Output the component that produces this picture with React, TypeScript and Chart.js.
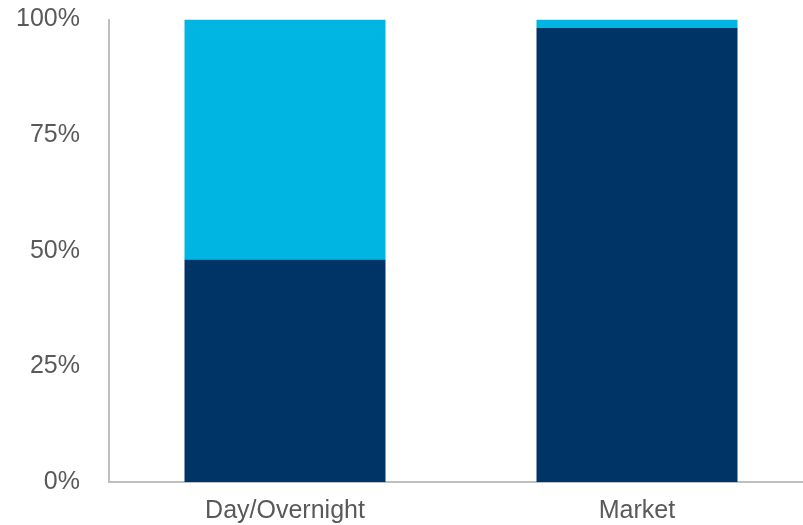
import React, { useEffect, useRef } from "react";
import { Chart, registerables } from "chart.js";

Chart.register(...registerables);

const categories = ["Day/Overnight", "Market"];
const darkSeries = [48.1, 98.2];
const lightSeries = [51.9, 1.8];
const yTicks = [0, 25, 50, 75, 100];

const NAVY = "#003366";
const LIGHT = "#00B5E2";
const AXIS = "#BFBFBF";
const TEXT = "#595959";
const FONT = "'Liberation Sans', Arial, sans-serif";

export default function App() {
  const ref = useRef<HTMLCanvasElement | null>(null);

  useEffect(() => {
    if (!ref.current) return;
    const chart = new Chart(ref.current, {
      type: "bar",
      data: {
        labels: categories,
        datasets: [
          {
            label: "Dark",
            data: darkSeries,
            backgroundColor: NAVY,
            borderWidth: 0,
            categoryPercentage: 1,
            barPercentage: 0.571,
          },
          {
            label: "Light",
            data: lightSeries,
            backgroundColor: LIGHT,
            borderWidth: 0,
            categoryPercentage: 1,
            barPercentage: 0.571,
          },
        ],
      },
      options: {
        animation: false,
        responsive: false,
        maintainAspectRatio: false,
        layout: { padding: { top: 19.5, left: 0, right: 0, bottom: 0 } },
        plugins: { legend: { display: false }, tooltip: { enabled: false } },
        scales: {
          x: {
            stacked: true,
            afterFit: (scale: any) => {
              scale.height = 43;
              scale.paddingLeft = 0;
              scale.paddingRight = 0;
            },
            border: { display: true, color: AXIS, width: 2 },
            grid: { display: false, drawTicks: false },
            ticks: {
              color: TEXT,
              padding: 14,
              font: { family: FONT, size: 25 },
            },
          },
          y: {
            stacked: true,
            min: 0,
            max: 100,
            afterBuildTicks: (scale: any) => {
              scale.ticks = yTicks.map((v) => ({ value: v }));
            },
            afterFit: (scale: any) => {
              scale.width = 109;
              scale.paddingTop = 0;
              scale.paddingBottom = 0;
            },
            border: { display: true, color: AXIS, width: 2 },
            grid: { display: false, drawTicks: false },
            ticks: {
              color: TEXT,
              padding: 29,
              font: { family: FONT, size: 25 },
              callback: (v: any) => `${v}%`,
            },
          },
        },
      },
    });
    return () => chart.destroy();
  }, []);

  return (
    <div
      style={{
        position: "absolute",
        left: 0,
        top: 0,
        width: 803,
        height: 525,
        overflow: "hidden",
        background: "#fff",
      }}
    >
      <canvas ref={ref} width={813} height={525} style={{ display: "block" }} />
    </div>
  );
}
